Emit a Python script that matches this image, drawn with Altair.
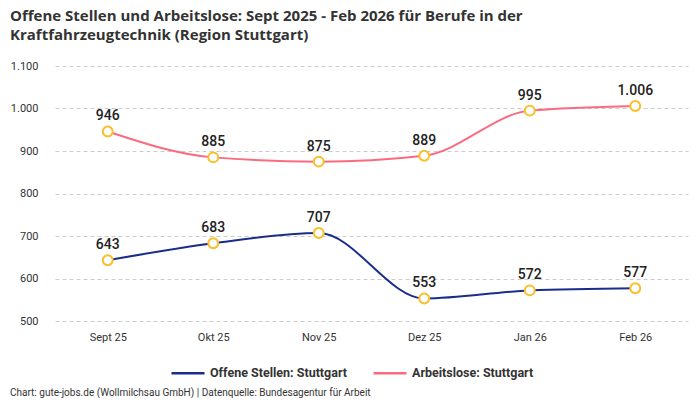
import altair as alt
import pandas as pd

months = ["Sept 25", "Okt 25", "Nov 25", "Dez 25", "Jan 26", "Feb 26"]
offene_stellen = [643, 683, 707, 553, 572, 577]
arbeitslose = [946, 885, 875, 889, 995, 1006]
series_names = ["Offene Stellen: Stuttgart", "Arbeitslose: Stuttgart"]
series_colors = ["#1b2d8c", "#fb6b80"]
footer = ["Chart: gute-jobs.de (Wollmilchsau GmbH) | Datenquelle: Bundesagentur für Arbeit"]

df = pd.concat([
    pd.DataFrame({"monat": months, "wert": offene_stellen, "serie": series_names[0]}),
    pd.DataFrame({"monat": months, "wert": arbeitslose, "serie": series_names[1]}),
])

FONT = "Roboto"
TEXT = "#333333"
YELLOW = "#f9bf2c"
# custom symbols live in [-1, 1], scaled by sqrt(size)
RING = "M-0.3,0A0.3,0.3 0 1,0 0.3,0A0.3,0.3 0 1,0 -0.3,0Z"
LINE = "M-1,0H1"
SYM = 1089

x = alt.X("monat:N", sort=months, title=None,
          scale=alt.Scale(type="point", padding=0.5),
          axis=alt.Axis(labelAngle=0, domain=False, ticks=False, grid=False,
                        labelPadding=10, labelFontSize=11, labelColor=TEXT))
y = alt.Y("wert:Q", title=None,
          scale=alt.Scale(domain=[500, 1100], nice=False, zero=False),
          axis=alt.Axis(values=[500, 600, 700, 800, 900, 1000, 1100], domain=False,
                        ticks=False, gridDash=[4, 3], gridColor="#cccccc",
                        labelPadding=17, labelFontSize=11, labelColor=TEXT,
                        labelExpr="replace(format(datum.value, ','), ',', '.')"))

base = alt.Chart(df).encode(x=x, y=y)

lines = base.mark_line(interpolate="monotone", strokeWidth=2).encode(
    color=alt.Color("serie:N", scale=alt.Scale(domain=series_names, range=series_colors),
                    legend=alt.Legend(title=None, orient="none", direction="horizontal",
                                      legendX=115, legendY=289, symbolType=LINE,
                                      symbolSize=SYM, symbolStrokeWidth=2.5,
                                      labelFontSize=12.5, labelFontWeight="bold",
                                      labelColor=TEXT, columnPadding=20, padding=0))
)

points = base.mark_point(filled=False, color=YELLOW, fill="white", strokeWidth=2,
                         size=SYM, opacity=1, shape=RING)

labels = base.transform_calculate(
    label="replace(format(datum.wert, ','), ',', '.')"
).mark_text(dy=-15, fontSize=14, fontWeight=500, color="#222222", font=FONT).encode(
    text="label:N"
)

foot = alt.Chart(pd.DataFrame({"t": footer})).mark_text(
    align="left", baseline="middle", fontSize=10, color=TEXT, font=FONT
).encode(x=alt.value(-45), y=alt.value(327), text="t:N")

chart = (
    alt.layer(lines, points, labels, foot)
    .properties(
        width=633, height=255,
        autosize=alt.AutoSizeParams(type="none"),
        padding={"left": 47, "top": 58, "right": 4, "bottom": 77},
        title=alt.Title(
            ["Offene Stellen und Arbeitslose: Sept 2025 - Feb 2026 für Berufe in der",
             "Kraftfahrzeugtechnik (Region Stuttgart)"],
            anchor="start", offset=17.5, fontSize=15, fontWeight="bold",
            color=TEXT, font="Open Sans", lineHeight=19,
        ),
    )
    .configure(font=FONT)
    .configure_view(stroke=None)
    .configure_legend(labelFont=FONT)
    .configure_axis(labelFont=FONT)
)

chart.save("out.html", embed_options={"renderer": "svg", "actions": False})
